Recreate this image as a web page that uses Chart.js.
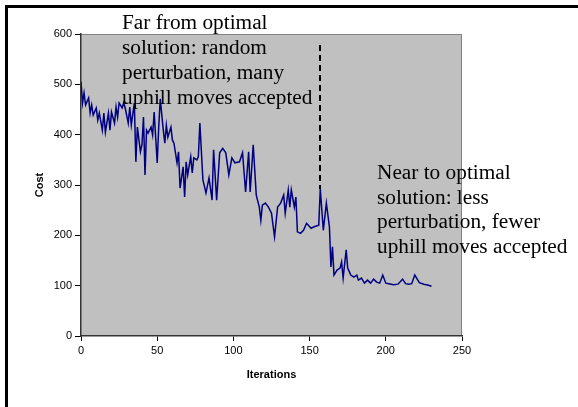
<!DOCTYPE html>
<html>
<head>
  <script src="https://cdn.jsdelivr.net/npm/chart.js"></script>
  <style>
    body { margin: 0; background: #fff; }
    #wrap { width: 578px; height: 407px; position: relative; }
  </style>
</head>
<body>
  <div id="wrap"><canvas id="costChart" width="578" height="407"></canvas></div>
  <script>
    // readings: iteration -> cost
    const iterations = [0, 1, 2, 3, 5, 6, 7, 8, 10, 11, 12, 14, 15, 16, 18, 19, 20, 22, 23, 24,
      25, 27, 28, 29, 31, 32, 33, 35, 36, 37, 39, 40, 41, 42, 43, 44, 46, 47, 48, 50,
      51, 52, 54, 55, 56, 57, 59, 60, 61, 63, 64, 65, 67, 68, 69, 70, 72, 73, 74, 76,
      77, 78, 80, 82, 84, 86, 87, 89, 91, 93, 95, 97, 99, 101, 104, 106, 108, 110, 111, 113,
      115, 117, 118, 119, 121, 123, 125, 126, 127, 129, 131, 133, 134, 136, 137, 138, 140, 141, 142, 144,
      146, 148, 151, 153, 156, 157, 159, 161, 163, 164, 165, 166, 168, 170, 171, 172, 174, 175, 177, 179,
      181, 182, 184, 186, 188, 190, 192, 194, 196, 198, 200, 202, 205, 208, 211, 213, 215, 217, 219, 221,
      222, 225, 228, 230];
    const costs = [505, 463, 483, 459, 473, 443, 459, 439, 453, 429, 443, 409, 443, 405, 443, 409, 445, 423, 455, 435,
      463, 453, 463, 453, 423, 455, 419, 463, 346, 415, 366, 380, 435, 320, 409, 403, 415, 399, 445, 344,
      415, 471, 409, 383, 419, 395, 415, 389, 383, 344, 366, 294, 336, 276, 346, 320, 356, 324, 354, 350,
      356, 423, 310, 284, 314, 270, 370, 270, 364, 373, 364, 320, 354, 344, 346, 364, 286, 366, 286, 380,
      280, 256, 230, 260, 264, 256, 244, 220, 197, 256, 264, 280, 244, 290, 256, 290, 256, 276, 207, 204,
      210, 224, 214, 217, 220, 292, 210, 264, 217, 137, 177, 121, 131, 135, 147, 115, 171, 135, 121, 117,
      121, 111, 115, 105, 111, 105, 113, 107, 105, 121, 105, 104, 102, 103, 113, 104, 103, 104, 121, 111,
      106, 103, 101, 99];

    const xTicks = [0, 50, 100, 150, 200, 250];
    const yTicks = [0, 100, 200, 300, 400, 500, 600];

    const noteLeft = ['Far from optimal', 'solution: random', 'perturbation, many', 'uphill moves accepted'];
    const noteRight = ['Near to optimal', 'solution: less', 'perturbation, fewer', 'uphill moves accepted'];
    const markIter = 157;
    const markFrom = 578, markTo = 292;

    const points = iterations.map((it, i) => ({ x: it, y: costs[i] }));

    const decor = {
      id: 'decor',
      beforeDraw(chart) {
        const ctx = chart.ctx;
        const a = chart.chartArea;
        ctx.save();
        // outer frame (top and left only in the picture)
        ctx.fillStyle = '#000';
        ctx.fillRect(5, 5, 573, 3);
        ctx.fillRect(5, 5, 3, 402);
        // plot area
        ctx.fillStyle = '#c0c0c0';
        ctx.fillRect(a.left, a.top, a.right - a.left, a.bottom - a.top);
        ctx.strokeStyle = '#808080';
        ctx.lineWidth = 1;
        ctx.beginPath();
        ctx.moveTo(a.left, a.top + 0.5);
        ctx.lineTo(a.right - 0.5, a.top + 0.5);
        ctx.lineTo(a.right - 0.5, a.bottom);
        ctx.stroke();
        ctx.restore();
      },
      afterDraw(chart) {
        const ctx = chart.ctx;
        const xs = chart.scales.x, ys = chart.scales.y;
        ctx.save();
        // dashed marker
        const mx = Math.round(xs.getPixelForValue(markIter));
        ctx.strokeStyle = '#000';
        ctx.lineWidth = 2;
        ctx.setLineDash([6, 4]);
        ctx.beginPath();
        ctx.moveTo(mx, ys.getPixelForValue(markFrom));
        ctx.lineTo(mx, ys.getPixelForValue(markTo));
        ctx.stroke();
        ctx.setLineDash([]);
        // notes
        ctx.fillStyle = '#000';
        ctx.font = '21.3px "Liberation Serif", "Times New Roman", serif';
        ctx.textBaseline = 'alphabetic';
        noteLeft.forEach((t, i) => ctx.fillText(t, 122, 29 + i * 25));
        noteRight.forEach((t, i) => ctx.fillText(t, 377, 179 + i * 24.5));
        ctx.restore();
      }
    };

    new Chart(document.getElementById('costChart'), {
      type: 'line',
      data: {
        datasets: [{
          label: 'Cost',
          data: points,
          borderColor: '#000080',
          borderWidth: 1.5,
          pointRadius: 0,
          tension: 0,
          fill: false
        }]
      },
      options: {
        responsive: false,
        animation: false,
        events: [],
        layout: { padding: { top: 34, right: 116, bottom: 0, left: 0 } },
        plugins: { legend: { display: false }, tooltip: { enabled: false } },
        scales: {
          x: {
            type: 'linear',
            min: 0, max: 250,
            afterFit(s) { s.height = 71; },
            afterBuildTicks(s) { s.ticks = xTicks.map(v => ({ value: v })); },
            grid: { drawOnChartArea: false, drawTicks: true, tickLength: 5, color: '#000' },
            border: { color: '#333', width: 1.5 },
            ticks: { color: '#000', padding: 3, maxRotation: 0, font: { family: '"Liberation Sans", Arial', size: 11 } },
            title: { display: true, text: 'Iterations', color: '#000', padding: { top: 0, bottom: 25 },
              font: { family: '"Liberation Sans", Arial', size: 11, weight: 'bold' } }
          },
          y: {
            min: 0, max: 600,
            afterFit(s) { s.width = 81; },
            afterBuildTicks(s) { s.ticks = yTicks.map(v => ({ value: v })); },
            grid: { drawOnChartArea: false, drawTicks: true, tickLength: 6, color: '#000' },
            border: { color: '#333', width: 1.5 },
            ticks: { color: '#000', padding: 3, font: { family: '"Liberation Sans", Arial', size: 11 } },
            title: { display: true, text: 'Cost', color: '#000', padding: { top: 33, bottom: 0 },
              font: { family: '"Liberation Sans", Arial', size: 11, weight: 'bold' } }
          }
        }
      },
      plugins: [decor]
    });
  </script>
</body>
</html>
